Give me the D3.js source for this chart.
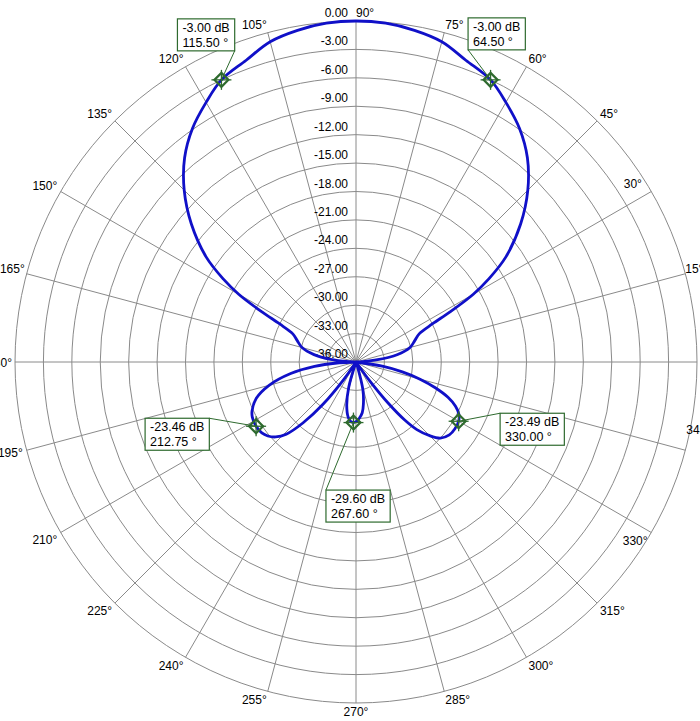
<!DOCTYPE html>
<html>
<head>
<meta charset="utf-8">
<script src="https://cdn.jsdelivr.net/npm/d3@7/dist/d3.min.js"></script>
<style>
  html, body { margin: 0; padding: 0; background: #fff; }
  svg { display: block; }
  text { font-family: "Liberation Sans", Arial, sans-serif; }
</style>
</head>
<body>
<div id="chart"></div>
<script>
// ---------------- data ----------------
const patternAngles = [0, 3, 6, 10, 15, 20, 24, 26.5, 28, 30, 32, 35, 40, 45, 50, 55, 60, 64.5, 70, 75, 80, 85,
  90, 95, 100, 105, 110, 115.5, 120, 125, 130, 135, 140, 145, 148, 150, 152, 153.5, 156, 160, 165, 170, 174, 177,
  180, 183, 186, 190, 195, 200, 205, 208, 212.75, 217, 220, 223, 226, 229, 232, 235, 238,
  244, 250, 254, 258, 262, 265, 267.6, 270, 273, 277, 280, 284, 288,
  294, 303, 306, 308, 310, 312, 315, 318, 322, 326, 330, 333, 336, 339, 342, 345, 348, 351, 355];
const patternGains = [-40, -35.3, -33.7, -31.6, -30.1, -29.4, -28.7, -27.0, -24.8, -21.7, -19.5, -16.7, -13.3, -10.35, -7.85, -5.9, -4.35, -3.0, -2.1, -1.0, -0.45, -0.1,
  0, -0.1, -0.45, -1.0, -2.1, -3.0, -4.35, -5.9, -7.85, -10.35, -13.3, -16.7, -19.5, -21.7, -24.8, -27.0, -28.7, -29.4, -30.1, -31.5, -33.3, -35.3,
  -40, -34, -31.6, -29.0, -26.5, -24.8, -23.9, -23.6, -23.46, -23.55, -23.85, -24.4, -25.4, -27.5, -30.3, -33.8, -37,
  -40, -36, -33.2, -31.3, -30.1, -29.7, -29.6, -29.7, -30.0, -30.6, -31.5, -33.0, -35.5,
  -40, -36, -33.5, -30.5, -28.0, -26.4, -25.0, -24.0, -23.5, -23.4, -23.49, -23.8, -24.5, -25.6, -27.2, -29.0, -31.0, -33.2, -36];

const ringLevels = [0, -3, -6, -9, -12, -15, -18, -21, -24, -27, -30, -33, -36];
const ringLabels = ["0.00", "-3.00", "-6.00", "-9.00", "-12.00", "-15.00", "-18.00", "-21.00", "-24.00", "-27.00", "-30.00", "-33.00", "-36.00"];
const spokeAngles = [0, 15, 30, 45, 60, 75, 90, 105, 120, 135, 150, 165, 180, 195, 210, 225, 240, 255, 270, 285, 300, 315, 330, 345];
const spokeLabels = ["0°", "15°", "30°", "45°", "60°", "75°", "90°", "105°", "120°", "135°", "150°", "165°", "180°", "195°", "210°", "225°", "240°", "255°", "270°", "285°", "300°", "315°", "330°", "345°"];

const markerAngles = [115.5, 64.5, 212.75, 330.0, 267.6];
const markerGains = [-3.00, -3.00, -23.46, -23.49, -29.60];
const markerLabels1 = ["-3.00 dB", "-3.00 dB", "-23.46 dB", "-23.49 dB", "-29.60 dB"];
const markerLabels2 = ["115.50 °", "64.50 °", "212.75 °", "330.00 °", "267.60 °"];

// ---------------- layout ----------------
const W = 700, H = 721;
const cx = 356, cy = 362, R = 341;
// per-label nudges (pixels) for the angle labels, as placed in the reference
const labelNudge = {
  15: [-4, 0], 30: [-31, -2], 165: [2, 0], 180: [1, 0], 195: [0, -3], 330: [-32, 1], 345: [-3, -26]
};
// callout box placement relative to marker: box left/top offsets, and which corner the leader uses
const calloutLayout = [
  { bx: -44, by: -61, corner: "br" },
  { bx: -22.5, by: -62, corner: "bl" },
  { bx: -111, by: -8, corner: "tr" },
  { bx: 41.5, by: -8, corner: "tl" },
  { bx: -27.5, by: 67.5, corner: "tl" }
];

const gridColor = "#8a8a8a";
const curveColor = "#1010c8";
const markColor = "#2e6a2e";

const svg = d3.select("#chart").append("svg").attr("width", W).attr("height", H);

const rScale = d3.scaleLinear().domain([-36, 0]).range([0, R]).clamp(true);
const rad = d => d * Math.PI / 180;
const px = (a, r) => cx + r * Math.cos(rad(a));
const py = (a, r) => cy - r * Math.sin(rad(a));

// grid circles
const grid = svg.append("g");
grid.selectAll("circle.ring").data(ringLevels.filter(v => rScale(v) > 0)).enter()
  .append("circle").attr("cx", cx).attr("cy", cy).attr("r", d => rScale(d))
  .attr("fill", "none").attr("stroke", gridColor).attr("stroke-width", 1);
// spokes
grid.selectAll("line.spoke").data(spokeAngles).enter()
  .append("line")
  .attr("x1", cx).attr("y1", cy)
  .attr("x2", d => px(d, R)).attr("y2", d => py(d, R))
  .attr("stroke", gridColor).attr("stroke-width", 1);

// ring labels
svg.append("g").selectAll("text").data(ringLevels).enter()
  .append("text")
  .attr("x", cx - 8)
  .attr("y", d => cy - rScale(d) - 4)
  .attr("text-anchor", "end")
  .attr("font-size", 12)
  .attr("fill", "#000")
  .text((d, i) => ringLabels[i]);

// angle labels
const LR = 345;
svg.append("g").selectAll("text").data(spokeAngles).enter()
  .append("text")
  .each(function (a, i) {
    const c = Math.cos(rad(a)), s = Math.sin(rad(a));
    let x = px(a, LR), y = py(a, LR);
    let anchor = c > 0.01 ? "start" : (c < -0.01 ? "end" : "middle");
    if (a === 90) anchor = "start";
    let base;
    if (s > 0.01) base = y;            // above point
    else if (s < -0.01) base = y + 9;  // below point
    else base = y + 4.5;               // centred
    const n = labelNudge[a] || [0, 0];
    d3.select(this).attr("x", x + n[0]).attr("y", base + n[1]).attr("text-anchor", anchor)
      .attr("font-size", 12).attr("fill", "#000").text(spokeLabels[i]);
  });

// pattern curve
const pts = patternAngles.map((a, i) => [px(a, rScale(patternGains[i])), py(a, rScale(patternGains[i]))]);
svg.append("path")
  .attr("d", d3.line().curve(d3.curveCatmullRomClosed.alpha(0.5))(pts))
  .attr("fill", "none").attr("stroke", curveColor).attr("stroke-width", 2.8)
  .attr("stroke-linejoin", "round");

// markers + callouts
const mg = svg.append("g");
markerAngles.forEach((a, i) => {
  const r = rScale(markerGains[i]);
  const mx = px(a, r), my = py(a, r);
  const L = calloutLayout[i];
  const g = mg.append("g");
  const bx = mx + L.bx, by = my + L.by;
  const box = g.append("rect").attr("x", bx).attr("y", by).attr("height", 32)
    .attr("fill", "#fff").attr("stroke", markColor).attr("stroke-width", 1.2);
  const t1 = g.append("text").attr("x", bx + 5).attr("y", by + 12.8).attr("font-size", 12.5).text(markerLabels1[i]);
  const t2 = g.append("text").attr("x", bx + 5).attr("y", by + 27.8).attr("font-size", 12.5).text(markerLabels2[i]);
  const w = Math.max(t1.node().getComputedTextLength(), t2.node().getComputedTextLength()) + 10;
  box.attr("width", w);
  let lx = bx, ly = by;
  if (L.corner === "br") { lx = bx + w; ly = by + 32; }
  if (L.corner === "bl") { lx = bx; ly = by + 32; }
  if (L.corner === "tr") { lx = bx + w; ly = by; }
  g.insert("line", "rect").attr("x1", lx).attr("y1", ly).attr("x2", mx).attr("y2", my)
    .attr("stroke", markColor).attr("stroke-width", 1);
  const m = mg.append("g").attr("transform", `translate(${mx},${my})`);
  m.append("line").attr("x1", -10).attr("x2", 10).attr("y1", 0).attr("y2", 0).attr("stroke", markColor).attr("stroke-width", 1.3);
  m.append("line").attr("x1", 0).attr("x2", 0).attr("y1", -10).attr("y2", 10).attr("stroke", markColor).attr("stroke-width", 1.3);
  m.append("path").attr("d", "M0,-7L7,0L0,7L-7,0Z").attr("fill", "none").attr("stroke", markColor).attr("stroke-width", 2.2);
});
</script>
</body>
</html>
